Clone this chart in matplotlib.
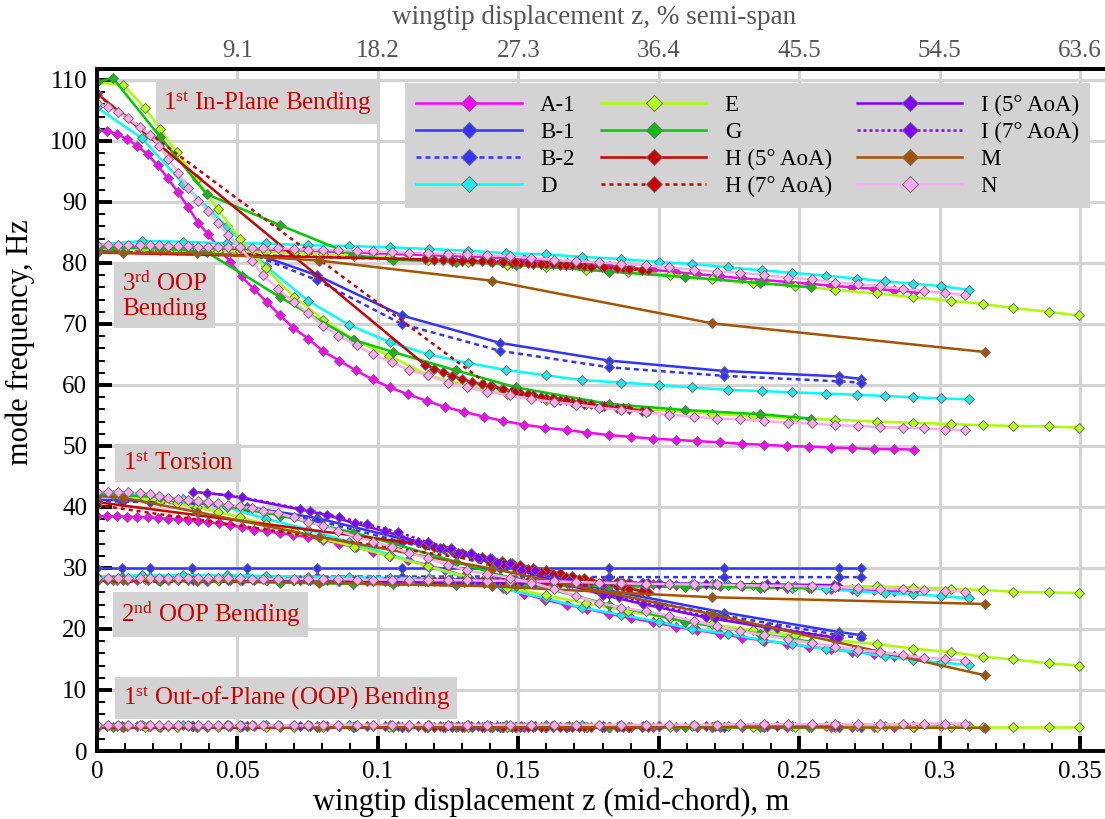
import matplotlib
matplotlib.use("Agg")
import matplotlib.pyplot as plt
from matplotlib.ticker import MultipleLocator, FuncFormatter, FixedLocator

plt.rcParams['font.family'] = ['Liberation Serif', 'DejaVu Serif']
plt.rcParams['mathtext.fontset'] = 'custom'
plt.rcParams['mathtext.rm'] = 'Liberation Serif'
plt.rcParams['mathtext.it'] = 'Liberation Serif:italic'

# ---- data: wingtip displacement (m) and mode frequencies (Hz) ----
# A-1
a1_x = [0.0, 0.0036, 0.0072, 0.0108, 0.0144, 0.0180, 0.0216, 0.0252, 0.0288, 0.0324,
        0.0360, 0.0396, 0.0435, 0.0474, 0.0515, 0.0559, 0.0604, 0.0652, 0.0698, 0.0752,
        0.0806, 0.0863, 0.0921, 0.0982, 0.1043, 0.1106, 0.1174, 0.1239, 0.1307, 0.1378,
        0.1447, 0.1520, 0.1595, 0.1672, 0.1745, 0.1822, 0.1901, 0.1980, 0.2060, 0.2138,
        0.2218, 0.2297, 0.2376, 0.2455, 0.2534, 0.2612, 0.2688, 0.2765, 0.2837, 0.2909]
a1_ip = [101.8, 101.6, 101.1, 100.3, 99.2, 97.8, 96.0, 93.9, 91.6, 89.2,
         86.6, 84.7, 82.4, 80.2, 77.8, 75.7, 73.6, 71.4, 69.4, 67.6,
         65.5, 64.0, 62.4, 60.9, 59.6, 58.5, 57.4, 56.4, 55.6, 54.8,
         54.1, 53.5, 53.0, 52.6, 52.2, 51.8, 51.5, 51.2, 51.0, 50.8,
         50.6, 50.35, 50.2, 50.0, 49.9, 49.75, 49.65, 49.5, 49.5, 49.4]
a1_oop3 = [82.6, 82.6, 82.6, 82.6, 82.6, 82.5, 82.5, 82.5, 82.5, 82.4,
           82.4, 82.4, 82.3, 82.3, 82.3, 82.2, 82.2, 82.1, 82.1, 82.0,
           81.9, 81.8, 81.7, 81.6, 81.5, 81.4, 81.3, 81.2, 81.1, 81.0,
           80.8, 80.6, 80.3, 80.0, 79.8, 79.5, 79.2, 78.9, 78.5, 78.2,
           77.8, 77.5, 77.2, 76.9, 76.6, 76.3, 76.0, 75.8, 75.5, 75.3]
a1_tor = [38.5, 38.5, 38.5, 38.4, 38.4, 38.3, 38.2, 38.1, 38.0, 37.9,
          37.7, 37.5, 37.3, 37.0, 36.7, 36.3, 36.0, 35.7, 35.4, 35.1,
          34.6, 34.0, 33.4, 32.7, 32.0, 31.3, 30.5, 29.7, 28.7, 27.5,
          26.7, 25.8, 24.8, 24.0, 23.3, 22.5, 21.8, 21.1, 20.4, 19.8,
          19.2, 18.6, 18.1, 17.6, 17.1, 16.7, 16.3, 15.9, 15.5, 15.2]
a1_oop2 = [28.1, 28.1, 28.1, 28.1, 28.1, 28.1, 28.1, 28.1, 28.1, 28.1,
           28.1, 28.1, 28.1, 28.0, 28.0, 28.0, 28.0, 28.0, 28.0, 28.0,
           28.0, 27.9, 27.9, 27.9, 27.9, 27.8, 27.8, 27.8, 27.7, 27.7,
           27.6, 27.6, 27.5, 27.5, 27.4, 27.4, 27.3, 27.3, 27.2, 27.1,
           27.1, 27.0, 26.9, 26.8, 26.7, 26.6, 26.5, 26.4, 26.3, 26.2]
a1_oop1 = [4.1, 4.1, 4.1, 4.1, 4.1, 4.1, 4.1, 4.1, 4.1, 4.1,
           4.1, 4.1, 4.1, 4.1, 4.1, 4.1, 4.1, 4.1, 4.1, 4.1,
           4.1, 4.1, 4.1, 4.1, 4.1, 4.0, 4.0, 4.0, 4.0, 4.0,
           4.0, 4.0, 4.0, 4.0, 4.0, 4.0, 4.0, 4.0, 4.0, 4.0,
           4.0, 4.0, 4.0, 4.0, 4.0, 4.0, 4.0, 4.0, 4.0, 4.0]

# B-1 / B-2
b_x = [0.0, 0.0088, 0.0189, 0.0337, 0.0533, 0.0782, 0.1085, 0.1435, 0.1824, 0.2232, 0.2642, 0.2720]
b1_oop3 = [82.5, 82.5, 82.5, 82.4, 82.0, 78.0, 71.4, 66.9, 64.0, 62.3, 61.4, 61.0]
b1_tor = [41.2, 41.1, 41.0, 40.7, 40.0, 38.2, 34.8, 30.5, 26.3, 22.7, 19.5, 19.0]
b1_oop2 = [30.0, 30.0, 30.0, 30.0, 30.0, 30.0, 30.0, 30.0, 30.0, 30.0, 30.0, 30.0]
b1_oop1 = [4.1, 4.1, 4.1, 4.1, 4.1, 4.1, 4.0, 4.0, 4.0, 4.0, 4.0, 4.0]
b2_oop3 = [82.4, 82.4, 82.4, 82.3, 81.8, 77.2, 70.0, 65.6, 62.9, 61.5, 60.6, 60.4]
b2_tor = [41.0, 40.9, 40.8, 40.5, 39.7, 37.8, 34.3, 30.0, 25.8, 22.2, 19.0, 18.5]
b2_oop2 = [28.6, 28.6, 28.6, 28.6, 28.6, 28.6, 28.6, 28.6, 28.5, 28.5, 28.5, 28.5]
b2_oop1 = [4.1, 4.1, 4.1, 4.1, 4.1, 4.0, 4.0, 4.0, 4.0, 4.0, 4.0, 4.0]

# D
d_x = [0.0, 0.0159, 0.0307, 0.0462, 0.0601, 0.0752, 0.0896, 0.1043, 0.1183, 0.1322,
       0.1458, 0.1597, 0.1728, 0.1867, 0.2000, 0.2120, 0.2247, 0.2366, 0.2476, 0.2597,
       0.2706, 0.2806, 0.2907, 0.3006, 0.3106]
d_ip = [105.5, 100.5, 93.0, 86.0, 79.5, 73.8, 69.9, 67.0, 65.0, 63.6,
        62.45, 61.6, 60.8, 60.4, 60.0, 59.6, 59.2, 59.0, 58.8, 58.6,
        58.4, 58.2, 58.0, 57.8, 57.65]
d_oop3 = [83.0, 83.6, 83.5, 83.2, 83.2, 82.9, 82.8, 82.55, 82.3, 82.0,
          81.6, 81.4, 81.0, 80.65, 80.15, 79.85, 79.3, 78.8, 78.4, 77.9,
          77.45, 77.0, 76.6, 76.2, 75.6]
d_tor = [42.3, 42.0, 41.3, 40.0, 38.1, 36.3, 34.3, 32.2, 30.2, 28.3,
         26.5, 25.0, 23.5, 22.3, 21.2, 20.0, 19.2, 18.2, 17.5, 16.7,
         16.2, 15.5, 14.9, 14.5, 14.1]
d_oop2 = [28.6, 28.8, 28.8, 28.8, 28.7, 28.6, 28.5, 28.4, 28.3, 28.2,
          28.0, 27.9, 27.8, 27.6, 27.5, 27.4, 27.2, 27.0, 26.8, 26.5,
          26.2, 25.9, 25.7, 25.4, 25.0]
d_oop1 = [4.2, 4.2, 4.2, 4.2, 4.2, 4.2, 4.2, 4.2, 4.2, 4.2,
          4.2, 4.2, 4.2, 4.1, 4.1, 4.1, 4.1, 4.1, 4.1, 4.1,
          4.1, 4.1, 4.1, 4.1, 4.1]

# E
e_x = [0.0, 0.0094, 0.0171, 0.0224, 0.0284, 0.0355, 0.0430, 0.0509, 0.0601, 0.0700,
       0.0806, 0.0915, 0.1040, 0.1180, 0.1322, 0.1460, 0.1600, 0.1740, 0.1890, 0.2040,
       0.2188, 0.2335, 0.2484, 0.2628, 0.2777, 0.2907, 0.3040, 0.3156, 0.3263, 0.3388, 0.3497]
e_ip = [109.6, 109.2, 105.4, 102.0, 98.2, 93.7, 88.8, 84.0, 79.1, 74.5,
        70.7, 67.4, 64.8, 61.6, 59.8, 58.5, 57.6, 56.9, 56.2, 55.75,
        55.3, 54.9, 54.55, 54.3, 54.0, 53.8, 53.6, 53.4, 53.3, 53.2, 53.0]
e_oop3 = [82.3, 82.3, 82.3, 82.2, 82.2, 82.1, 82.0, 81.9, 81.8, 81.6,
          81.4, 81.2, 80.9, 80.5, 80.1, 79.7, 79.3, 78.9, 78.5, 78.1,
          77.3, 76.8, 76.3, 75.6, 75.0, 74.4, 73.8, 73.3, 72.6, 72.0, 71.4]
e_tor = [42.0, 41.8, 41.4, 41.0, 40.6, 40.0, 39.2, 38.3, 37.2, 36.0,
         34.8, 33.5, 32.0, 30.3, 28.5, 26.8, 25.5, 24.2, 22.9, 21.8,
         20.8, 19.8, 19.0, 18.2, 17.5, 16.8, 16.2, 15.45, 15.0, 14.4, 14.0]
e_oop2 = [28.2, 28.2, 28.2, 28.2, 28.2, 28.2, 28.1, 28.1, 28.1, 28.0,
          28.0, 27.9, 27.9, 27.8, 27.8, 27.7, 27.6, 27.6, 27.5, 27.4,
          27.3, 27.2, 27.1, 27.0, 27.0, 26.8, 26.6, 26.4, 26.1, 26.0, 25.9]
e_oop1 = [4.0, 4.0, 4.0, 4.0, 4.0, 4.0, 4.0, 4.0, 4.0, 4.0,
          4.0, 4.0, 4.0, 4.0, 4.0, 4.0, 4.0, 4.0, 4.0, 4.0,
          4.0, 4.0, 4.0, 4.0, 4.0, 4.0, 4.0, 4.0, 4.0, 4.0, 4.0]

# G
g_x = [0.0, 0.0057, 0.0224, 0.0390, 0.0652, 0.0913, 0.1055, 0.1278, 0.1492, 0.1822, 0.2092, 0.2362, 0.2542]
g_ip = [109.7, 110.3, 100.7, 91.3, 86.2, 81.3, 80.5, 80.2, 79.7, 78.6, 77.7, 76.7, 76.0]
g_oop3 = [82.5, 82.5, 82.4, 81.8, 74.4, 67.4, 65.4, 62.4, 59.6, 56.9, 55.9, 55.2, 54.5]
g_tor = [42.0, 42.0, 41.6, 40.7, 38.6, 35.8, 34.0, 31.0, 28.0, 24.0, 21.2, 19.2, 17.9]
g_oop2 = [28.0, 28.0, 27.9, 27.8, 27.6, 27.4, 27.3, 27.2, 27.1, 27.0, 26.9, 26.8, 26.7]
g_oop1 = [4.0, 4.0, 4.0, 4.0, 4.0, 4.0, 4.0, 4.0, 4.0, 4.0, 4.0, 4.0, 4.0]

# H (5 deg AoA)
h5_x = [0.0, 0.1168, 0.1200, 0.1233, 0.1265, 0.1298, 0.1335, 0.1370, 0.1405, 0.1441,
        0.1476, 0.1506, 0.1551, 0.1599, 0.1647, 0.1690, 0.1733, 0.1797, 0.1872, 0.1961]
h5_ip = [107.8, 63.3, 62.7, 62.1, 61.5, 61.0, 60.5, 60.1, 59.8, 59.4,
         59.0, 58.7, 58.3, 57.9, 57.5, 57.2, 56.9, 56.6, 56.2, 55.7]
h5_oop3 = [81.7, 80.6, 80.5, 80.5, 80.4, 80.4, 80.3, 80.3, 80.2, 80.1,
           80.0, 80.0, 79.9, 79.8, 79.7, 79.6, 79.5, 79.3, 79.1, 78.8]
h5_tor = [40.8, 33.8, 33.5, 33.2, 32.8, 32.5, 32.2, 31.8, 31.5, 31.1,
          30.8, 30.5, 30.0, 29.6, 29.1, 28.7, 28.3, 27.6, 26.9, 26.0]
h5_oop2 = [27.9, 27.8, 27.8, 27.8, 27.8, 27.8, 27.8, 27.8, 27.8, 27.7,
           27.7, 27.7, 27.7, 27.7, 27.6, 27.6, 27.6, 27.6, 27.5, 27.5]
h5_oop1 = [4.0, 4.0, 4.0, 4.0, 4.0, 4.0, 4.0, 4.0, 4.0, 4.0,
           4.0, 4.0, 4.0, 4.0, 4.0, 4.0, 4.0, 4.0, 4.0, 4.0]

# H (7 deg AoA)
h7_x = [0.0, 0.1400, 0.1445, 0.1490, 0.1535, 0.1580, 0.1625, 0.1670, 0.1715, 0.1760, 0.1805, 0.1850, 0.1895, 0.1940]
h7_ip = [107.6, 59.8, 59.3, 58.9, 58.5, 58.1, 57.8, 57.5, 57.2, 56.9, 56.6, 56.3, 56.0, 55.7]
h7_oop3 = [81.9, 80.3, 80.2, 80.1, 80.0, 79.9, 79.8, 79.7, 79.6, 79.4, 79.3, 79.1, 79.0, 78.8]
h7_tor = [40.3, 31.0, 30.6, 30.2, 29.8, 29.4, 29.0, 28.6, 28.2, 27.8, 27.4, 27.0, 26.6, 26.2]
h7_oop2 = [27.8, 27.8, 27.8, 27.8, 27.8, 27.8, 27.8, 27.7, 27.7, 27.7, 27.7, 27.7, 27.6, 27.6]
h7_oop1 = [4.0, 4.0, 4.0, 4.0, 4.0, 4.0, 4.0, 4.0, 4.0, 4.0, 4.0, 4.0, 4.0, 4.0]

# I (5 deg AoA)
i5_x = [0.0343, 0.0468, 0.0723, 0.0818, 0.0919, 0.1025, 0.1144, 0.1221, 0.1287, 0.1358,
        0.1423, 0.1510, 0.1620, 0.1800, 0.1943, 0.2168, 0.2386, 0.2624]
i5_tor = [42.5, 41.9, 39.6, 38.7, 37.3, 36.0, 34.3, 33.2, 32.4, 31.6,
          30.8, 29.6, 28.0, 25.6, 24.1, 21.9, 20.25, 18.6]
i5_oop2 = [28.1, 28.1, 28.0, 28.0, 28.0, 27.9, 27.9, 27.9, 27.8, 27.8,
           27.8, 27.7, 27.7, 27.6, 27.5, 27.4, 27.3, 27.2]
i5_oop1 = [4.1, 4.1, 4.1, 4.1, 4.1, 4.1, 4.1, 4.1, 4.1, 4.1,
           4.1, 4.1, 4.1, 4.1, 4.1, 4.1, 4.1, 4.1]

# I (7 deg AoA)
i7_x = [0.0390, 0.0515, 0.0760, 0.0860, 0.0960, 0.1070, 0.1180, 0.1260, 0.1330, 0.1400,
        0.1470, 0.1560, 0.1680, 0.1860, 0.2000, 0.2200, 0.2420, 0.2640]
i7_tor = [42.3, 41.6, 39.4, 38.4, 37.2, 35.9, 34.2, 33.2, 32.4, 31.6,
          30.8, 29.6, 28.0, 25.2, 23.8, 21.8, 20.1, 18.6]
i7_oop2 = [28.0, 28.0, 28.0, 27.9, 27.9, 27.9, 27.8, 27.8, 27.8, 27.7,
           27.7, 27.6, 27.6, 27.5, 27.4, 27.3, 27.2, 27.1]
i7_oop1 = [4.1, 4.1, 4.1, 4.1, 4.1, 4.1, 4.1, 4.1, 4.1, 4.1,
           4.1, 4.1, 4.1, 4.1, 4.1, 4.1, 4.1, 4.1]

# M
m_x = [0.0, 0.0094, 0.0355, 0.0792, 0.1405, 0.2191, 0.3163]
m_oop3 = [81.8, 81.7, 81.6, 80.4, 77.1, 70.1, 65.4]
m_tor = [41.8, 41.5, 39.2, 35.1, 29.9, 22.4, 12.4]
m_oop2 = [28.0, 28.0, 27.9, 27.6, 27.0, 25.2, 24.1]
m_oop1 = [4.0, 4.0, 4.0, 3.9, 3.9, 3.9, 3.8]

# N
n_x = [0.0, 0.0040, 0.0076, 0.0111, 0.0153, 0.0189, 0.0222, 0.0254, 0.0290, 0.0325,
       0.0360, 0.0395, 0.0430, 0.0468, 0.0508, 0.0551, 0.0592, 0.0646, 0.0700, 0.0752,
       0.0806, 0.0859, 0.0925, 0.0984, 0.1049, 0.1112, 0.1180, 0.1251, 0.1316, 0.1388,
       0.1469, 0.1547, 0.1626, 0.1704, 0.1786, 0.1867, 0.1953, 0.2038, 0.2124, 0.2206,
       0.2290, 0.2375, 0.2462, 0.2544, 0.2628, 0.2709, 0.2789, 0.2868, 0.2945, 0.3020, 0.3091]
n_ip = [106.3, 105.5, 104.7, 103.7, 102.3, 101.0, 99.2, 97.0, 94.8, 92.3,
        90.2, 88.6, 86.6, 84.6, 82.6, 80.3, 78.0, 75.7, 73.6, 71.8,
        69.7, 68.1, 66.5, 65.0, 63.75, 62.4, 61.6, 60.4, 59.6, 58.9,
        58.3, 57.7, 57.2, 56.8, 56.3, 55.9, 55.5, 55.15, 54.8, 54.5,
        54.4, 54.1, 53.8, 53.7, 53.4, 53.3, 53.1, 53.0, 52.9, 52.7, 52.6]
n_oop3 = [83.0, 83.0, 83.0, 83.0, 82.9, 82.9, 82.9, 82.8, 82.8, 82.8,
          82.7, 82.7, 82.6, 82.6, 82.5, 82.5, 82.4, 82.4, 82.3, 82.2,
          82.2, 82.1, 82.0, 81.9, 81.8, 81.7, 81.6, 81.5, 81.4, 81.3,
          81.1, 80.8, 80.5, 80.3, 80.1, 79.9, 79.6, 79.3, 78.9, 78.6,
          78.4, 78.0, 77.6, 77.3, 76.8, 76.5, 76.2, 75.75, 75.4, 75.1, 74.7]
n_tor = [42.5, 42.5, 42.4, 42.4, 42.3, 42.1, 41.8, 41.5, 41.3, 41.2,
         41.0, 40.8, 40.6, 40.3, 40.1, 39.8, 39.4, 39.0, 38.3, 37.6,
         36.9, 36.1, 35.1, 34.3, 33.5, 32.4, 31.6, 30.5, 29.6, 29.0,
         28.4, 27.6, 26.6, 25.4, 24.3, 23.5, 22.9, 22.2, 21.3, 20.5,
         19.7, 19.0, 18.3, 17.7, 17.1, 16.6, 16.2, 15.7, 15.3, 15.1, 14.8]
n_oop2 = [28.3, 28.3, 28.3, 28.3, 28.3, 28.3, 28.3, 28.3, 28.3, 28.3,
          28.3, 28.3, 28.3, 28.3, 28.3, 28.2, 28.2, 28.2, 28.2, 28.2,
          28.2, 28.2, 28.1, 28.1, 28.1, 28.1, 28.0, 28.0, 28.0, 27.9,
          27.9, 27.8, 27.8, 27.7, 27.6, 27.5, 27.4, 27.35, 27.3, 27.3,
          27.2, 27.1, 27.1, 27.0, 26.9, 26.7, 26.6, 26.5, 26.4, 26.3, 26.1]
n_oop1 = [4.2, 4.2, 4.2, 4.2, 4.2, 4.2, 4.2, 4.2, 4.2, 4.2,
          4.2, 4.2, 4.2, 4.2, 4.2, 4.2, 4.2, 4.2, 4.2, 4.2,
          4.3, 4.3, 4.3, 4.3, 4.3, 4.3, 4.3, 4.3, 4.3, 4.3,
          4.3, 4.3, 4.3, 4.3, 4.3, 4.3, 4.3, 4.3, 4.3, 4.3,
          4.4, 4.4, 4.4, 4.4, 4.4, 4.4, 4.4, 4.4, 4.5, 4.5, 4.5]

# label, x, mode curves, line colour, marker colour, line style
series = [
    ("A-1", a1_x, [a1_oop1, a1_oop2, a1_tor, a1_oop3, a1_ip], "#ff00ff", "#ff00ff", "-"),
    ("B-1", b_x, [b1_oop1, b1_oop2, b1_tor, b1_oop3], "#3333ff", "#3333ff", "-"),
    ("B-2", b_x, [b2_oop1, b2_oop2, b2_tor, b2_oop3], "#3333ff", "#3333ff", (0, (2.0, 1.6))),
    ("D", d_x, [d_oop1, d_oop2, d_tor, d_oop3, d_ip], "#00ffff", "#22e8e8", "-"),
    ("E", e_x, [e_oop1, e_oop2, e_tor, e_oop3, e_ip], "#aaff00", "#b3ff1a", "-"),
    ("G", g_x, [g_oop1, g_oop2, g_tor, g_oop3, g_ip], "#00cc00", "#11bb11", "-"),
    ("H (5° AoA)", h5_x, [h5_oop1, h5_oop2, h5_tor, h5_oop3, h5_ip], "#cc0000", "#cc0000", "-"),
    ("H (7° AoA)", h7_x, [h7_oop1, h7_oop2, h7_tor, h7_oop3, h7_ip], "#cc0000", "#cc0000", (0, (1.6, 1.6))),
    ("I (5° AoA)", i5_x, [i5_oop1, i5_oop2, i5_tor], "#7f00ff", "#8000ff", "-"),
    ("I (7° AoA)", i7_x, [i7_oop1, i7_oop2, i7_tor], "#7f00ff", "#8000ff", (0, (1.2, 1.2))),
    ("M", m_x, [m_oop1, m_oop2, m_tor, m_oop3], "#a65300", "#a65300", "-"),
    ("N", n_x, [n_oop1, n_oop2, n_tor, n_oop3, n_ip], "#ffaaee", "#ffaaee", "-"),
]

W, H = 1105, 819
fig = plt.figure(figsize=(W / 100, H / 100), dpi=100)
ax = fig.add_axes([97 / W, 68 / H, 1019 / W, 682 / H])

handles = []
for label, xs, modes, lc, mc, ls in series:
    for k, ys in enumerate(modes):
        line, = ax.plot(xs, ys, color=lc, ls=ls, lw=1.8, marker='D', ms=5.3,
                        mfc=mc, mec='#6e6e6e', mew=0.7, label=label if k == 0 else None)
        if k == 0:
            handles.append(line)

ax.set_xlim(0, 1019 / 2808.6)
ax.set_ylim(0, 111.8)

ax.xaxis.set_major_locator(MultipleLocator(0.05))
ax.xaxis.set_minor_locator(MultipleLocator(0.01))
ax.yaxis.set_major_locator(MultipleLocator(10))
ax.yaxis.set_minor_locator(MultipleLocator(2))
ax.xaxis.set_major_formatter(FuncFormatter(lambda v, p: f"{v:g}"))

ax.grid(True, which='major', color='#d3d3d3', lw=2.2)
ax.set_axisbelow(True)
ax.tick_params(which='major', direction='in', length=11, width=2.8, labelsize=18,
               pad=7, top=False, right=False)
ax.tick_params(which='minor', direction='in', length=6, width=1.4, top=False, right=False)
for s in ['left', 'bottom', 'top']:
    ax.spines[s].set_linewidth(2.8)
ax.spines['right'].set_visible(False)

ax.set_xlabel("wingtip displacement z (mid-chord), m", fontsize=22)
ax.set_ylabel("mode frequency, Hz", fontsize=22)
ax.xaxis.set_label_coords(0.4455, -0.054)
ax.yaxis.set_label_coords(-0.061, 0.60)

semi_span = 0.55
top = ax.secondary_xaxis('top', functions=(lambda v: v / semi_span * 100, lambda p: p * semi_span / 100))
top_ticks_m = [0.05, 0.10, 0.15, 0.20, 0.25, 0.30, 0.35]
top.xaxis.set_major_locator(FixedLocator([v / semi_span * 100 for v in top_ticks_m]))
top.xaxis.set_major_formatter(FuncFormatter(lambda v, p: f"{v:.1f}"))
top.tick_params(length=0, labelsize=18, labelcolor='#555555', pad=5)
top.spines['top'].set_linewidth(2.8)
fig.text(594 / W, 1 - 17 / H, "wingtip displacement z, % semi-span", fontsize=19.5,
         color='#555555', ha='center', va='center')

box = dict(boxstyle='square,pad=0.3', fc='#d3d3d3', ec='none')
notes = [
    (0.0235, 106.3, "1$^{\\mathrm{st}}$ In-Plane Bending"),
    (0.0089, 74.6, "3$^{\\mathrm{rd}}$ OOP\nBending"),
    (0.0092, 47.2, "1$^{\\mathrm{st}}$ Torsion"),
    (0.0085, 22.4, "2$^{\\mathrm{nd}}$ OOP Bending"),
    (0.0092, 8.7, "1$^{\\mathrm{st}}$ Out-of-Plane (OOP) Bending"),
]
for nx, ny, txt in notes:
    ax.text(nx, ny, txt, color='#cc0000', fontsize=18, ha='left', va='center',
            bbox=box, zorder=4, linespacing=1.1)

leg = ax.legend(handles=handles, ncol=3, loc='upper left', fontsize=16.5,
                bbox_to_anchor=(405 / W, 1 - 83 / H), bbox_transform=fig.transFigure,
                borderaxespad=0, frameon=True, fancybox=False, facecolor='#d3d3d3',
                edgecolor='none', framealpha=1, handlelength=4.6, handletextpad=0.8,
                columnspacing=1.1, labelspacing=0.26, borderpad=0.5, markerscale=1.5)
leg.set_zorder(10)

fig.savefig("out.png", dpi=100)
